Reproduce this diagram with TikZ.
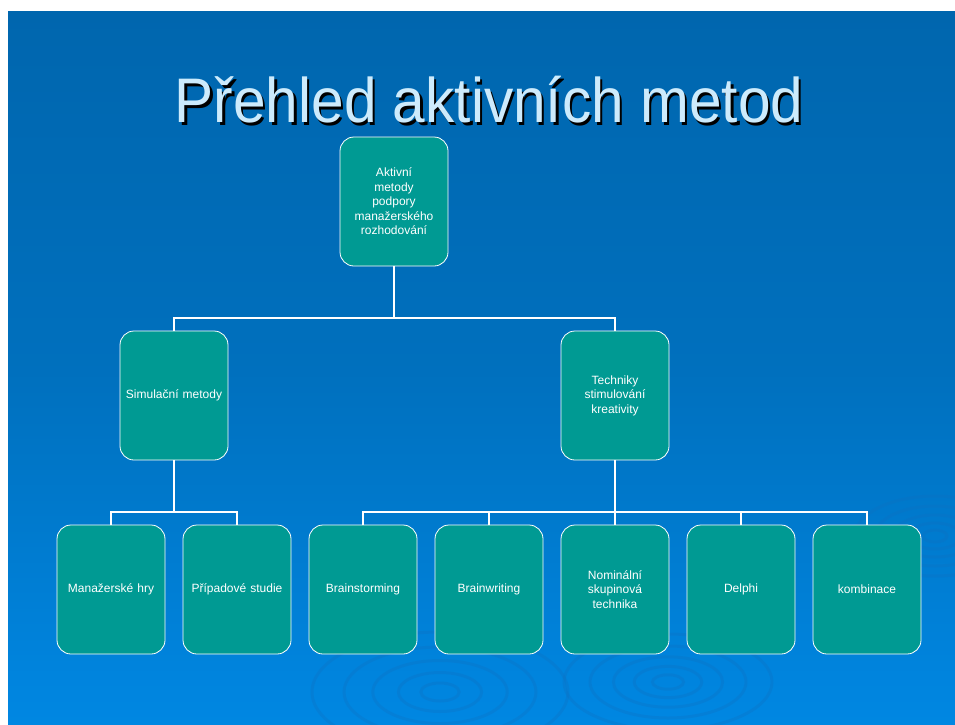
\documentclass[tikz,border=0pt]{standalone}
\usepackage{fontspec}
\setmainfont{Liberation Sans}
\begin{document}
\begin{tikzpicture}[x=1pt,y=-1pt,
  box/.style={draw=white, line width=0.8pt, fill=teal0, rounded corners=14pt,
    minimum width=108pt, minimum height=129pt, inner sep=2pt,
    text=white, align=center, font=\fontsize{12}{14.5}\selectfont, text width=104pt},
  link/.style={draw=white, line width=2pt},
  ripple/.style={draw=rippleblue, line width=3pt, opacity=0.3}]
\definecolor{teal0}{HTML}{009A93}
\definecolor{bgtop}{HTML}{0066AE}
\definecolor{bgbot}{HTML}{0087E2}
\definecolor{titleblue}{HTML}{CDEBFC}
\definecolor{rippleblue}{HTML}{1070C0}
\newcommand{\shadowed}[1]{\makebox[0pt][l]{\hspace{2.5pt}\raisebox{-2.5pt}{\color{black}#1}}{\color{titleblue}#1}}
\useasboundingbox (0,0) rectangle (955,724);
\fill[white] (0,0) rectangle (955,724);
% slide background
\shade[top color=bgtop, bottom color=bgbot, middle color=bgtop!70!bgbot] (8,11) rectangle (955,724);
% faint water ripples
\begin{scope}
\clip (8,11) rectangle (955,724);
\foreach \r in {12,26,42,60,80} {
  \draw[ripple] (440,692) ellipse ({\r*1.6} and {\r*0.75});
  \draw[ripple] (668,682) ellipse ({\r*1.3} and {\r*0.6});
  \draw[ripple] (935,536) ellipse ({\r*1.0} and {\r*0.5});
}
\end{scope}
% title with drop shadow
\node[font=\fontsize{63}{63}\selectfont, xscale=0.93, inner sep=0pt] (title) at (489,101) {\shadowed{Přehled aktivních metod}};
% nodes
\node[box] (root) at (394,201.5) {Aktivní\\metody\\podpory\\manažerského\\rozhodování};
\node[box] (sim) at (174,395.5) {Simulační metody};
\node[box] (tech) at (615,395.5) {Techniky\\stimulování\\kreativity};
\node[box] (hry) at (111,589.5) {Manažerské hry};
\node[box] (pri) at (237,589.5) {Případové studie};
\node[box] (brs) at (363,589.5) {Brainstorming};
\node[box] (brw) at (489,589.5) {Brainwriting};
\node[box] (nom) at (615,589.5) {Nominální\\skupinová\\technika};
\node[box] (del) at (741,589.5) {Delphi};
\node[box] (kom) at (867,589.5) {kombinace};
% connectors
\foreach \c in {sim,tech}
  \draw[link] (root.south) -- ++(0,52) -| (\c.north);
\foreach \c in {hry,pri}
  \draw[link] (sim.south) -- ++(0,52) -| (\c.north);
\foreach \c in {brs,brw,nom,del,kom}
  \draw[link] (tech.south) -- ++(0,52) -| (\c.north);
\end{tikzpicture}
\end{document}
